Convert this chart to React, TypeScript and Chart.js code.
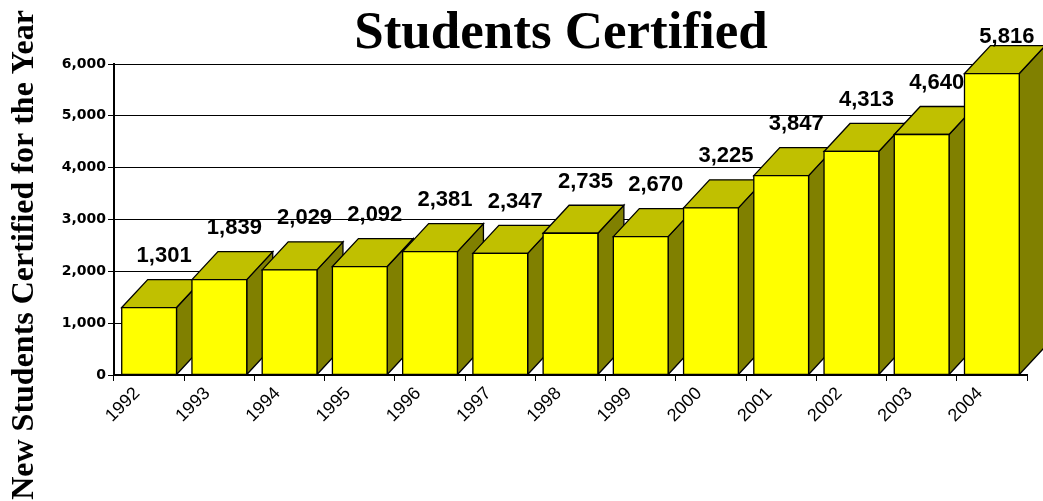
import React, { useEffect, useRef } from "react";
import { Chart, registerables } from "chart.js";

Chart.register(...registerables);

const years = ["1992", "1993", "1994", "1995", "1996", "1997", "1998", "1999", "2000", "2001", "2002", "2003", "2004"];
const certified = [1301, 1839, 2029, 2092, 2381, 2347, 2735, 2670, 3225, 3847, 4313, 4640, 5816];
const yMin = 0;
const yMax = 6000;
const yStep = 1000;
const chartTitle = "Students Certified";
const yAxisTitle = "New Students Certified for the Year";

const W = 1043;
const H = 501;
const DX = 26;
const DY = -28;
const FRONT = "#FFFF00";
const TOP = "#C0C000";
const SIDE = "#808000";

const fmt = (v: number) => v.toLocaleString("en-US");

const bar3dPlugin = {
  id: "bar3d",
  afterDatasetsDraw(chart: any) {
    const ctx = chart.ctx as CanvasRenderingContext2D;
    const meta = chart.getDatasetMeta(0);
    const poly = (pts: number[][], fill: string) => {
      ctx.beginPath();
      ctx.moveTo(pts[0][0], pts[0][1]);
      for (let k = 1; k < pts.length; k++) ctx.lineTo(pts[k][0], pts[k][1]);
      ctx.closePath();
      ctx.fillStyle = fill;
      ctx.fill();
      ctx.stroke();
    };
    ctx.save();
    ctx.lineWidth = 1.3;
    ctx.strokeStyle = "#000";
    ctx.lineJoin = "miter";
    meta.data.forEach((el: any) => {
      const { x, y, base, width } = el.getProps(["x", "y", "base", "width"], true);
      const l = x - width / 2;
      const r = x + width / 2;
      const t = y;
      const b = base;
      poly([[r, t], [r + DX, t + DY], [r + DX, b + DY], [r, b]], SIDE);
      poly([[l, t], [l + DX, t + DY], [r + DX, t + DY], [r, t]], TOP);
      poly([[l, t], [r, t], [r, b], [l, b]], FRONT);
    });
    ctx.font = 'bold 22px "Liberation Sans", Arial, sans-serif';
    ctx.fillStyle = "#000";
    ctx.textAlign = "center";
    ctx.textBaseline = "middle";
    meta.data.forEach((el: any, i: number) => {
      const { x, y } = el.getProps(["x", "y"], true);
      ctx.fillText(fmt(certified[i]), x + 15, Math.max(y - 51.5, 37));
    });
    ctx.restore();
  },
  afterDraw(chart: any) {
    const ctx = chart.ctx as CanvasRenderingContext2D;
    ctx.save();
    ctx.fillStyle = "#000";
    ctx.textAlign = "center";
    ctx.textBaseline = "alphabetic";
    ctx.font = 'bold 53px "Liberation Serif", "Times New Roman", serif';
    ctx.fillText(chartTitle, 561, 48);
    ctx.translate(33, 255);
    ctx.rotate(-Math.PI / 2);
    ctx.font = 'bold 32px "Liberation Serif", "Times New Roman", serif';
    ctx.fillText(yAxisTitle, 0, 0);
    ctx.restore();
  },
};

export default function App() {
  const ref = useRef<HTMLCanvasElement | null>(null);
  useEffect(() => {
    document.body.style.margin = "0";
    const canvas = ref.current;
    if (!canvas) return;
    const chart = new Chart(canvas, {
      type: "bar",
      data: {
        labels: years,
        datasets: [
          {
            label: chartTitle,
            data: certified,
            backgroundColor: FRONT,
            borderColor: "#000",
            borderWidth: 1,
            barPercentage: 0.78,
            categoryPercentage: 1,
          },
        ],
      },
      options: {
        responsive: false,
        animation: false,
        devicePixelRatio: 1,
        layout: { padding: { top: 64, left: 0, right: 16, bottom: 0 } },
        plugins: {
          legend: { display: false },
          tooltip: { enabled: false },
          title: { display: false },
        },
        scales: {
          x: {
            type: "category",
            offset: true,
            grid: {
              display: true,
              drawOnChartArea: false,
              drawTicks: true,
              offset: true,
              color: "#000",
              lineWidth: 1,
              tickLength: 6,
            },
            border: { display: true, color: "#000", width: 2 },
            ticks: {
              color: "#000",
              font: { family: '"Liberation Sans", Arial, sans-serif', size: 18 },
              minRotation: 45,
              maxRotation: 45,
              autoSkip: false,
              labelOffset: -12,
              padding: 2,
            },
            afterFit: (scale: any) => {
              scale.height = 126;
            },
          },
          y: {
            min: yMin,
            max: yMax,
            grid: {
              color: "#000",
              lineWidth: 1,
              drawTicks: true,
              tickLength: 6,
            },
            border: { display: true, color: "#000", width: 2 },
            ticks: {
              stepSize: yStep,
              color: "#000",
              padding: 2,
              font: { family: '"DejaVu Sans", sans-serif', size: 14, weight: "bold" },
              callback: (v: any) => fmt(Number(v)),
            },
            afterFit: (scale: any) => {
              scale.width = 114;
            },
          },
        },
      },
      plugins: [bar3dPlugin],
    });
    return () => chart.destroy();
  }, []);
  return (
    <div style={{ width: W, height: H }}>
      <canvas ref={ref} width={W} height={H} style={{ display: "block" }} />
    </div>
  );
}
